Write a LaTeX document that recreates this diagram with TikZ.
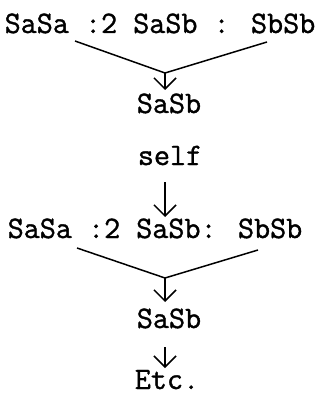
\documentclass[tikz,border=0pt]{standalone}
\usepackage{fontspec}
\newfontfamily\typew{Latin Modern Mono}[FakeBold=1.2]
\usetikzlibrary{arrows.meta}
\begin{document}
\begin{tikzpicture}[x=1pt,y=-1pt,
  txt/.style={font=\typew\fontsize{31.2}{31.2}\selectfont, inner sep=0pt, anchor=base},
  link/.style={line width=1.5pt},
  arr/.style={line width=1.5pt,-{Straight Barb[length=11pt,width=22pt]}}]
\useasboundingbox (0,0) rectangle (321,395);
% rows
\node[txt] (r1) at (160,33) {SaSa :2 SaSb : SbSb};
\node[txt] (s1) at (169,113) {SaSb};
\node[txt] (self) at (170,165) {self};
\node[txt] (r3) at (155,238) {SaSa :2 SaSb: SbSb};
\node[txt] (s2) at (169,328) {SaSb};
\node[txt] (etc) at (167,389) {Etc.};
% connector points
\coordinate (l1) at (75,41);
\coordinate (m1) at (267,42);
\coordinate (v1) at (165,73);
\coordinate (t1) at (165,90);
\coordinate (a2) at (165,182);
\coordinate (t2) at (165,217);
\coordinate (l3) at (77,248);
\coordinate (m3) at (258,250);
\coordinate (v3) at (165,278);
\coordinate (t3) at (165,302);
\coordinate (a4) at (165,347);
\coordinate (t4) at (165,368);
% connectors
\draw[link] (l1) -- (v1) -- (m1);
\draw[arr] (v1) -- (t1);
\draw[arr] (a2) -- (t2);
\draw[link] (l3) -- (v3) -- (m3);
\draw[arr] (v3) -- (t3);
\draw[arr] (a4) -- (t4);
\end{tikzpicture}
\end{document}
